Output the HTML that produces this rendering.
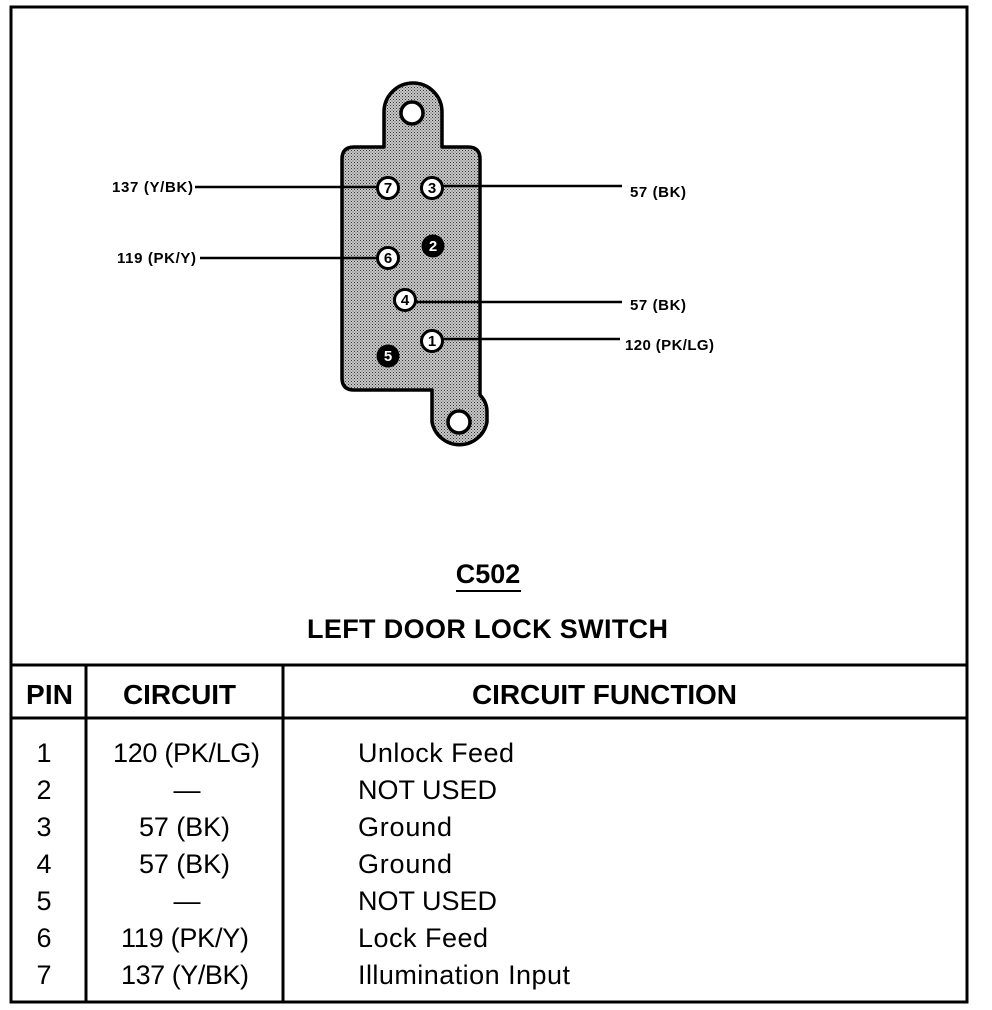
<!DOCTYPE html>
<html><head><style>body{margin:0;background:#fff}svg{display:block}</style></head><body>
<svg width="992" height="1010" viewBox="0 0 992 1010" xmlns="http://www.w3.org/2000/svg" font-family="Liberation Sans, Arial, sans-serif">
<defs>
<pattern id="dots" width="3" height="3" patternUnits="userSpaceOnUse">
<rect width="3" height="3" fill="#c8c8c8"/><rect width="1" height="1" fill="#333"/><rect x="1.5" y="1.5" width="1" height="1" fill="#555"/>
</pattern>
</defs>
<rect x="11" y="7" width="956" height="995" fill="none" stroke="#000" stroke-width="3"/>
<path d="M354,147 L384,147 L384,112 A29,29 0 0 1 442,112 L442,147 L468,147 Q480,147 480,159 L480,395 Q487,402 487,412 L487,422 A28,28 0 0 1 432,422 L432,390 L354,390 Q342,390 342,378 L342,159 Q342,147 354,147 Z" fill="url(#dots)" stroke="#000" stroke-width="3.5" stroke-linejoin="round"/>
<circle cx="412" cy="113" r="11" fill="#fff" stroke="#000" stroke-width="3.5"/>
<circle cx="459" cy="422" r="11" fill="#fff" stroke="#000" stroke-width="3.5"/>
<g stroke="#000" stroke-width="2.5">
<line x1="195" y1="187" x2="378" y2="187"/>
<line x1="442" y1="186" x2="622" y2="186"/>
<line x1="200" y1="258" x2="378" y2="258"/>
<line x1="415" y1="302" x2="622" y2="302"/>
<line x1="442" y1="339" x2="620" y2="339"/>
</g>
<g font-weight="bold" font-size="15" text-anchor="middle">
<circle cx="388" cy="188" r="10.5" fill="#fff" stroke="#000" stroke-width="3"/><text x="388" y="193">7</text>
<circle cx="432" cy="188" r="10.5" fill="#fff" stroke="#000" stroke-width="3"/><text x="432" y="193">3</text>
<circle cx="433" cy="246" r="11.5" fill="#000"/><text x="433" y="251" fill="#fff">2</text>
<circle cx="388" cy="258" r="10.5" fill="#fff" stroke="#000" stroke-width="3"/><text x="388" y="263">6</text>
<circle cx="405" cy="300" r="10.5" fill="#fff" stroke="#000" stroke-width="3"/><text x="405" y="305">4</text>
<circle cx="432" cy="341" r="10.5" fill="#fff" stroke="#000" stroke-width="3"/><text x="432" y="346">1</text>
<circle cx="388" cy="356" r="11.5" fill="#000"/><text x="388" y="361" fill="#fff">5</text>
</g>
<g font-size="15" font-weight="bold">
<text x="112" y="192" textLength="81">137 (Y/BK)</text>
<text x="117" y="263" textLength="79">119 (PK/Y)</text>
<text x="630" y="197" textLength="56">57 (BK)</text>
<text x="630" y="310" textLength="56">57 (BK)</text>
<text x="625" y="350" textLength="89">120 (PK/LG)</text>
</g>
<text x="488" y="583" font-size="27" font-weight="bold" text-anchor="middle">C502</text>
<line x1="456" y1="591" x2="521" y2="591" stroke="#000" stroke-width="2"/>
<text x="307" y="638" font-size="27" font-weight="bold" textLength="361">LEFT DOOR LOCK SWITCH</text>
<g stroke="#000" stroke-width="3">
<line x1="11" y1="665" x2="967" y2="665"/>
<line x1="11" y1="718" x2="967" y2="718"/>
<line x1="86" y1="665" x2="86" y2="1002"/>
<line x1="283" y1="665" x2="283" y2="1002"/>
</g>
<g font-size="28" font-weight="bold">
<text x="26" y="704" textLength="47">PIN</text>
<text x="123" y="704" textLength="113">CIRCUIT</text>
<text x="472" y="704" textLength="265">CIRCUIT FUNCTION</text>
</g>
<g font-size="27">
<g text-anchor="middle">
<text x="44" y="762">1</text><text x="44" y="799">2</text><text x="44" y="836">3</text><text x="44" y="873">4</text><text x="44" y="910">5</text><text x="44" y="947">6</text><text x="44" y="984">7</text>
<text x="187" y="799">—</text><text x="187" y="910">—</text>
</g>
<text x="113" y="762" textLength="147">120 (PK/LG)</text>
<text x="139" y="836" textLength="91">57 (BK)</text>
<text x="139" y="873" textLength="91">57 (BK)</text>
<text x="121" y="947" textLength="128">119 (PK/Y)</text>
<text x="121" y="984" textLength="128">137 (Y/BK)</text>
<text x="358" y="762" textLength="156">Unlock Feed</text><text x="358" y="799" textLength="139">NOT USED</text><text x="358" y="836" textLength="94">Ground</text><text x="358" y="873" textLength="94">Ground</text><text x="358" y="910" textLength="139">NOT USED</text><text x="358" y="947" textLength="130">Lock Feed</text><text x="358" y="984" textLength="212">Illumination Input</text>
</g>
</svg>
</body></html>
